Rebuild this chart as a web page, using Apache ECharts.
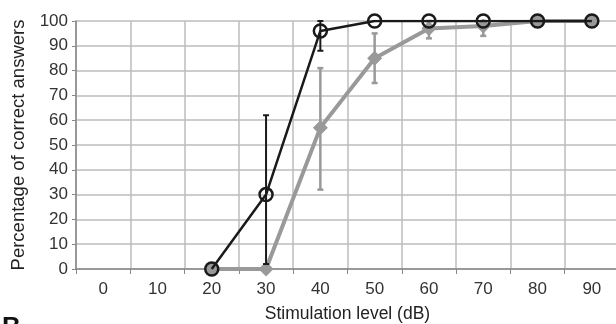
<!DOCTYPE html>
<html>
<head>
    <meta charset="utf-8" />
    <style>
        html, body { margin: 0; padding: 0; background: #fff; }
        #chart { width: 616px; height: 324px; }
    </style>
    <script src="https://cdn.jsdelivr.net/npm/echarts@6/dist/echarts.min.js"></script>
</head>
<body>
    <div id="chart"></div>
    <script type="text/javascript">
        // stimulation levels (dB)
        var levels = ['0', '10', '20', '30', '40', '50', '60', '70', '80', '90'];
        // black series (circles), mean and error range
        var blackMean = [null, null, 0, 30, 96, 100, 100, 100, 100, 100];
        var blackLow  = [null, null, null, 2, 88, null, null, null, null, null];
        var blackHigh = [null, null, null, 62, 100, null, null, null, null, null];
        // grey series (diamonds), mean and error range
        var greyMean = [null, null, 0, 0, 57, 85, 97, 98, 100, 100];
        var greyLow  = [null, null, null, null, 32, 75, 93, 94, null, null];
        var greyHigh = [null, null, null, null, 81, 95, 100, 100, null, null];

        function errData(low, high) {
            var out = [];
            for (var i = 0; i < levels.length; i++) {
                if (low[i] != null && high[i] != null) {
                    out.push([i, low[i], high[i]]);
                }
            }
            return out;
        }

        // vertical error bar with small caps
        function errRender(color, width) {
            return function (params, api) {
                var lo = api.coord([api.value(0), api.value(1)]);
                var hi = api.coord([api.value(0), api.value(2)]);
                var cap = 3;
                var st = { stroke: color, lineWidth: width };
                return {
                    type: 'group',
                    children: [
                        { type: 'line', shape: { x1: lo[0], y1: lo[1], x2: hi[0], y2: hi[1] }, style: st },
                        { type: 'line', shape: { x1: lo[0] - cap, y1: lo[1], x2: lo[0] + cap, y2: lo[1] }, style: st },
                        { type: 'line', shape: { x1: hi[0] - cap, y1: hi[1], x2: hi[0] + cap, y2: hi[1] }, style: st }
                    ]
                };
            };
        }

        var chart = echarts.init(document.getElementById('chart'));
        var font = 'Liberation Sans';
        chart.setOption({
            animation: false,
            textStyle: { fontFamily: font },
            grid: { left: 76, right: -3, top: 21, bottom: 55, containLabel: false, outerBoundsMode: 'none' },
            xAxis: {
                type: 'category',
                data: levels,
                boundaryGap: true,
                name: 'Stimulation level (dB)',
                nameLocation: 'middle',
                nameGap: 36,
                nameTextStyle: { fontSize: 17.5, color: '#222', fontFamily: font },
                axisLine: { lineStyle: { color: '#888', width: 1.5 } },
                axisTick: { show: true, length: 5, lineStyle: { color: '#888' } },
                axisLabel: { fontSize: 17, color: '#333', margin: 12, fontFamily: font },
                splitLine: { show: true, lineStyle: { color: '#bdbdbd', width: 1.5 } }
            },
            yAxis: {
                type: 'value',
                min: 0,
                max: 100,
                interval: 10,
                name: 'Percentage of correct answers',
                nameLocation: 'middle',
                nameGap: 47,
                nameTextStyle: { fontSize: 18.5, color: '#222', fontFamily: font },
                axisLine: { show: true, lineStyle: { color: '#888', width: 1.5 } },
                axisTick: { show: true, length: 4, lineStyle: { color: '#888' } },
                axisLabel: { fontSize: 17, color: '#333', margin: 8, fontFamily: font },
                splitLine: { show: true, lineStyle: { color: '#bdbdbd', width: 1.5 } }
            },
            series: [
                {
                    type: 'custom',
                    renderItem: errRender('#999', 2.5),
                    data: errData(greyLow, greyHigh),
                    z: 2
                },
                {
                    type: 'line',
                    data: greyMean,
                    symbol: 'diamond',
                    symbolSize: 15,
                    lineStyle: { color: '#999', width: 4 },
                    itemStyle: { color: '#999' },
                    z: 3
                },
                {
                    type: 'custom',
                    renderItem: errRender('#1a1a1a', 2),
                    data: errData(blackLow, blackHigh),
                    z: 4
                },
                {
                    type: 'line',
                    data: blackMean,
                    symbol: 'circle',
                    symbolSize: 13,
                    showAllSymbol: true,
                    lineStyle: { color: '#1a1a1a', width: 2.5 },
                    itemStyle: { color: 'rgba(0,0,0,0)', borderColor: '#1a1a1a', borderWidth: 2.5 },
                    z: 5
                }
            ],
            graphic: [
                {
                    type: 'text',
                    left: 2,
                    top: 315,
                    style: { text: 'B', fontSize: 26, fontWeight: 'bold', fill: '#111', fontFamily: font }
                }
            ]
        });
    </script>
</body>
</html>
